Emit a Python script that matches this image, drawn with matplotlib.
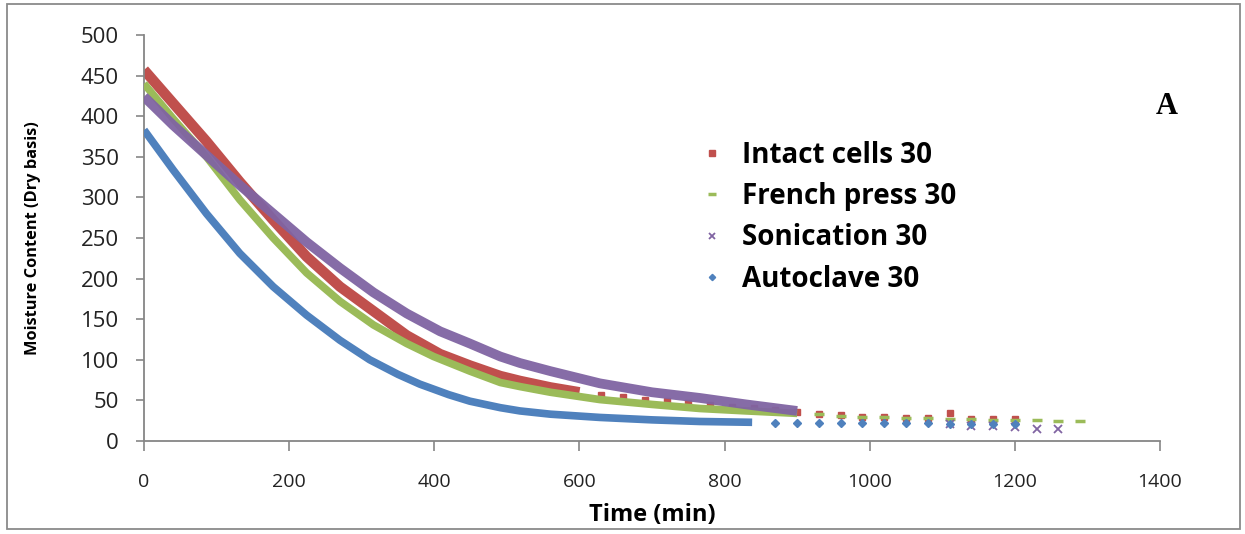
import matplotlib
matplotlib.use("Agg")
import matplotlib.pyplot as plt
from matplotlib.patches import Rectangle

# Drying curves (moisture content, dry basis)
# dense part of each run = thick band, later 30-min readings = single markers
intact_t = [0, 40, 86, 132, 178, 224, 270, 316, 362, 408, 449, 491, 518, 560, 600]
intact_v = [457, 416, 369, 319, 272, 227, 190, 160, 130, 107, 93, 80, 74, 66, 60]
intact_t2 = [630, 660, 690, 720, 750, 780, 810, 840, 870, 900, 930, 960, 990, 1020,
             1050, 1080, 1110, 1140, 1170, 1200]
intact_v2 = [57, 54, 51, 49, 47, 44, 42, 40, 38, 36, 33, 32, 30, 29, 28, 28, 35, 27, 27, 27]

french_t = [0, 40, 86, 132, 178, 224, 270, 316, 362, 399, 449, 491, 518, 560, 628, 700,
            766, 830, 900]
french_v = [440, 397, 350, 297, 250, 207, 172, 143, 120, 104, 86, 72, 67, 60, 51, 45, 40,
            37, 34]
french_t2 = [930, 960, 990, 1020, 1050, 1080, 1110, 1140, 1170, 1200, 1230, 1260, 1290]
french_v2 = [33, 31, 30, 29, 28, 28, 27, 27, 26, 26, 26, 24, 24]

sonic_t = [0, 40, 86, 132, 178, 224, 270, 316, 362, 408, 449, 491, 518, 560, 628, 700,
           766, 830, 900]
sonic_v = [424, 389, 352, 315, 280, 245, 213, 183, 157, 135, 120, 104, 96, 86, 71, 60, 53,
           45, 37]
sonic_t2 = [1110, 1140, 1170, 1200, 1230, 1260]
sonic_v2 = [21, 19, 19, 17, 15, 15]

auto_t = [0, 40, 86, 132, 178, 224, 270, 311, 350, 380, 420, 449, 491, 518, 560, 628, 700,
          766, 838]
auto_v = [383, 334, 280, 231, 190, 155, 124, 100, 82, 70, 57, 49, 41, 37, 33, 29, 26, 24, 23]
auto_t2 = [870, 900, 930, 960, 990, 1020, 1050, 1080, 1110, 1140, 1170, 1200]
auto_v2 = [22, 22, 22, 22, 22, 22, 22, 22, 21, 21, 21, 21]

labels = ["Intact cells 30", "French press 30", "Sonication 30", "Autoclave 30"]
x_ticks = [0, 200, 400, 600, 800, 1000, 1200, 1400]
y_ticks = [0, 50, 100, 150, 200, 250, 300, 350, 400, 450, 500]

plt.rcParams['font.family'] = ['Open Sans', 'DejaVu Sans']

fig = plt.figure(figsize=(12.45, 5.34), dpi=100)
ax = fig.add_axes([0.1157, 0.1742, 0.8160, 0.7603])

red, green, purple, blue = '#C0504D', '#9BBB59', '#8064A2', '#4F81BD'

# dense readings
band = dict(solid_capstyle='butt', solid_joinstyle='round')
ax.plot(intact_t, intact_v, color=red, lw=7.5, zorder=2, **band)
ax.plot(french_t, french_v, color=green, lw=5.5, zorder=3, **band)
ax.plot(sonic_t, sonic_v, color=purple, lw=7, zorder=4, alpha=0.95, **band)
ax.plot(auto_t, auto_v, color=blue, lw=5.5, zorder=5, **band)

# sparse readings
h1, = ax.plot(intact_t2, intact_v2, 's', color=red, ms=5, mec=red, zorder=2, label=labels[0])
h2, = ax.plot(french_t2, french_v2, '_', color=green, ms=7, mew=2.5, zorder=3, label=labels[1])
h3, = ax.plot(sonic_t2, sonic_v2, 'x', color=purple, ms=5.5, mew=1.3, zorder=4, label=labels[2])
h4, = ax.plot(auto_t2, auto_v2, 'D', color=blue, ms=4, mec=blue, zorder=5, label=labels[3])

ax.set_xlim(0, 1400)
ax.set_ylim(0, 500)
ax.set_xticks(x_ticks)
ax.set_yticks(y_ticks)
ax.tick_params(axis='x', labelsize=14, colors='#868686', labelcolor='#222222',
               length=7, width=1.2, pad=16)
ax.tick_params(axis='y', labelsize=16, colors='#868686', labelcolor='#222222',
               length=6, width=1.2, pad=12)

for s in ['top', 'right']:
    ax.spines[s].set_visible(False)
for s in ['left', 'bottom']:
    ax.spines[s].set_color('#868686')
    ax.spines[s].set_linewidth(1.3)

ax.set_xlabel("Time (min)", fontsize=17, fontweight='bold', labelpad=9)
ax.set_ylabel("Moisture Content (Dry basis)", fontsize=11.8, fontweight='bold', labelpad=29)

leg = ax.legend(handles=[h1, h2, h3, h4], loc='upper left',
                bbox_to_anchor=(0.556, 0.757), bbox_transform=fig.transFigure,
                frameon=False, fontsize=20, markerscale=0.8, handlelength=0.6,
                handletextpad=0.8, labelspacing=0.44, borderaxespad=0)
for t in leg.get_texts():
    t.set_fontweight('bold')

fig.text(0.937, 0.80, "A", fontsize=22, fontweight='bold', family='Liberation Serif',
         ha='center', va='center')

# chart frame
fig.patches.append(Rectangle((0.006, 0.009), 0.99, 0.983, transform=fig.transFigure,
                             fill=False, edgecolor='#8a8a8a', lw=1.3))

fig.savefig("out.png", dpi=100)
